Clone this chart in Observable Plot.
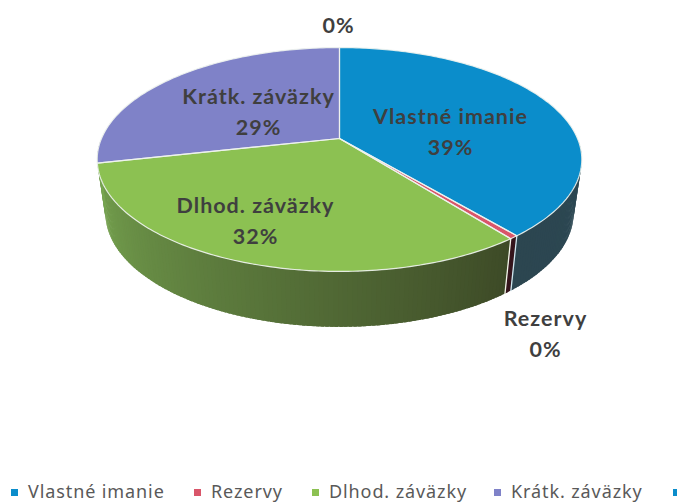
<!DOCTYPE html>
<html><head><meta charset="utf-8">
<script src="https://cdn.jsdelivr.net/npm/d3@7"></script>
<script src="https://cdn.jsdelivr.net/npm/@observablehq/plot@0.6"></script>
<style>
html,body{margin:0;padding:0;background:#fff;overflow:hidden;width:677px;height:504px}
#legend{position:absolute;left:0;top:478px;width:677px;height:26px;overflow:hidden;white-space:nowrap;font:18px "Noto Sans",sans-serif;color:#595959;letter-spacing:.9px}
#legend span.i{position:absolute;top:1px}
#legend span.s{position:absolute;top:11px;width:7px;height:7px}
</style></head><body><div id="chart"></div><div id="legend"></div>
<script>
const categories=["Vlastné imanie","Rezervy","Dlhod. záväzky","Krátk. záväzky",""];
const shares=[39,0.5,32,28.5,0];
const percentLabels=["39%","0%","32%","29%","0%"];
const colors=["#0b8dcb","#d9566a","#8cc152","#7f82c8","#0b8dcb"];
const sideRamps=[["#2b4a5a","#2c4650"],["#35151c","#35151c"],["#3d4a27","#79a851"],["#4a4a80","#4a4a80"],["#2b4a5a","#2b4a5a"]];
const sideOverrun=[0,0,0.1,0,0];
const legendX=[28,211,329,511,690];

const cx=339,topY=138,botY=191,R=238,R2=230,K=108,K2=110,P=0.1875;
const at=(a,r0,k0,y0)=>{const X=Math.sin(a),Y=-Math.cos(a),s=1/(1-P*Y);return [cx+r0*X*s,y0+k0*Y*s];};
const proj=a=>at(a,R,K,topY);
const projB=a=>at(a,R2,K2,botY);
const total=d3.sum(shares);
let acc=0;
const spans=shares.map(v=>{const a0=acc/total*2*Math.PI;acc+=v;return [a0,acc/total*2*Math.PI];});

const topRows=[],sideRows=[],rim=[];
spans.forEach(([a0,a1],i)=>{
  if(a1-a0<=0)return;
  const n=Math.max(2,Math.ceil((a1-a0)*60));
  const key="t"+i;
  const pts=d3.range(n+1).map(j=>a0+(a1-a0)*j/n);
  topRows.push({key,x:cx,y:topY,c:colors[i]});
  rim.push({key:"r"+i,x:cx,y:topY});
  pts.forEach(a=>{const [x,y]=proj(a);topRows.push({key,x,y,c:colors[i]});rim.push({key:"r"+i,x,y});});
  topRows.push({key,x:cx,y:topY,c:colors[i]});
  rim.push({key:"r"+i,x:cx,y:topY});
});
// side strips: painted back to front so the overrun of one slice covers the next
[3,0,1,2].forEach(i=>{
  const [a0,a1]=spans[i];
  const end=a1+sideOverrun[i];
  const n=Math.max(2,Math.ceil((end-a0)*60));
  const pts=d3.range(n+1).map(j=>a0+(end-a0)*j/n);
  const ramp=d3.interpolateRgb(sideRamps[i][0],sideRamps[i][1]);
  for(let j=0;j<n;j++){
    const am=(pts[j]+pts[j+1])/2;
    if(Math.cos(am)>-0.02)continue;
    const aNext=Math.min(pts[j+1]+0.012,end);
    const p0=proj(pts[j]),p1=proj(aNext),b0=projB(pts[j]),b1=projB(aNext),k="s"+i+"_"+j;
    const c=d3.color(ramp((am-a0)/(end-a0))).formatHex();
    sideRows.push({key:k,x:p0[0],y:p0[1],c},{key:k,x:p1[0],y:p1[1],c},{key:k,x:b1[0],y:b1[1],c},{key:k,x:b0[0],y:b0[1],c});
  }
});
const seams=[];
[[spans[0][1],"#cfe6ee"],[spans[1][1],"#f3f5ea"]].forEach(([a,c],i)=>{const p=proj(a),b=projB(a);seams.push({key:"e"+i,x:p[0],y:p[1],c},{key:"e"+i,x:b[0],y:b[1],c});});

const labelRows=[
 {t:categories[0]+"\n"+percentLabels[0],x:450,y:129},
 {t:categories[1]+"\n"+percentLabels[1],x:545,y:331},
 {t:categories[2]+"\n"+percentLabels[2],x:255,y:218},
 {t:categories[3]+"\n"+percentLabels[3],x:258,y:109},
 {t:percentLabels[4],x:338,y:22}
];
const plot=Plot.plot({
 width:677,height:470,margin:0,
 x:{domain:[0,677],range:[0,677],axis:null},
 y:{domain:[0,470],range:[0,470],axis:null},
 color:{type:"identity"},
 style:{background:"transparent",letterSpacing:"1px"},
 marks:[
  Plot.line(sideRows,{x:"x",y:"y",z:"key",fill:"c",stroke:"none",curve:"linear"}),
  Plot.line(seams,{x:"x",y:"y",z:"key",stroke:"c",strokeWidth:1.3}),
  Plot.line(topRows,{x:"x",y:"y",z:"key",fill:"c",stroke:"none",curve:"linear"}),
  Plot.line(rim,{x:"x",y:"y",z:"key",stroke:"#eef3ee",strokeWidth:1.2,strokeOpacity:.9,curve:"linear"}),
  Plot.text(labelRows,{x:"x",y:"y",text:"t",fill:"#3f3f3f",fontSize:21.5,fontWeight:700,fontFamily:'Lato,sans-serif',lineHeight:1.46,textAnchor:"middle"})
 ]
});
document.getElementById("chart").appendChild(plot);
const lg=document.getElementById("legend");
categories.forEach((c,i)=>{
  const s=document.createElement("span");s.className="s";s.style.left=(legendX[i]-17)+"px";s.style.background=colors[i];lg.appendChild(s);
  const t=document.createElement("span");t.className="i";t.style.left=legendX[i]+"px";t.textContent=c;lg.appendChild(t);
});
</script></body></html>
